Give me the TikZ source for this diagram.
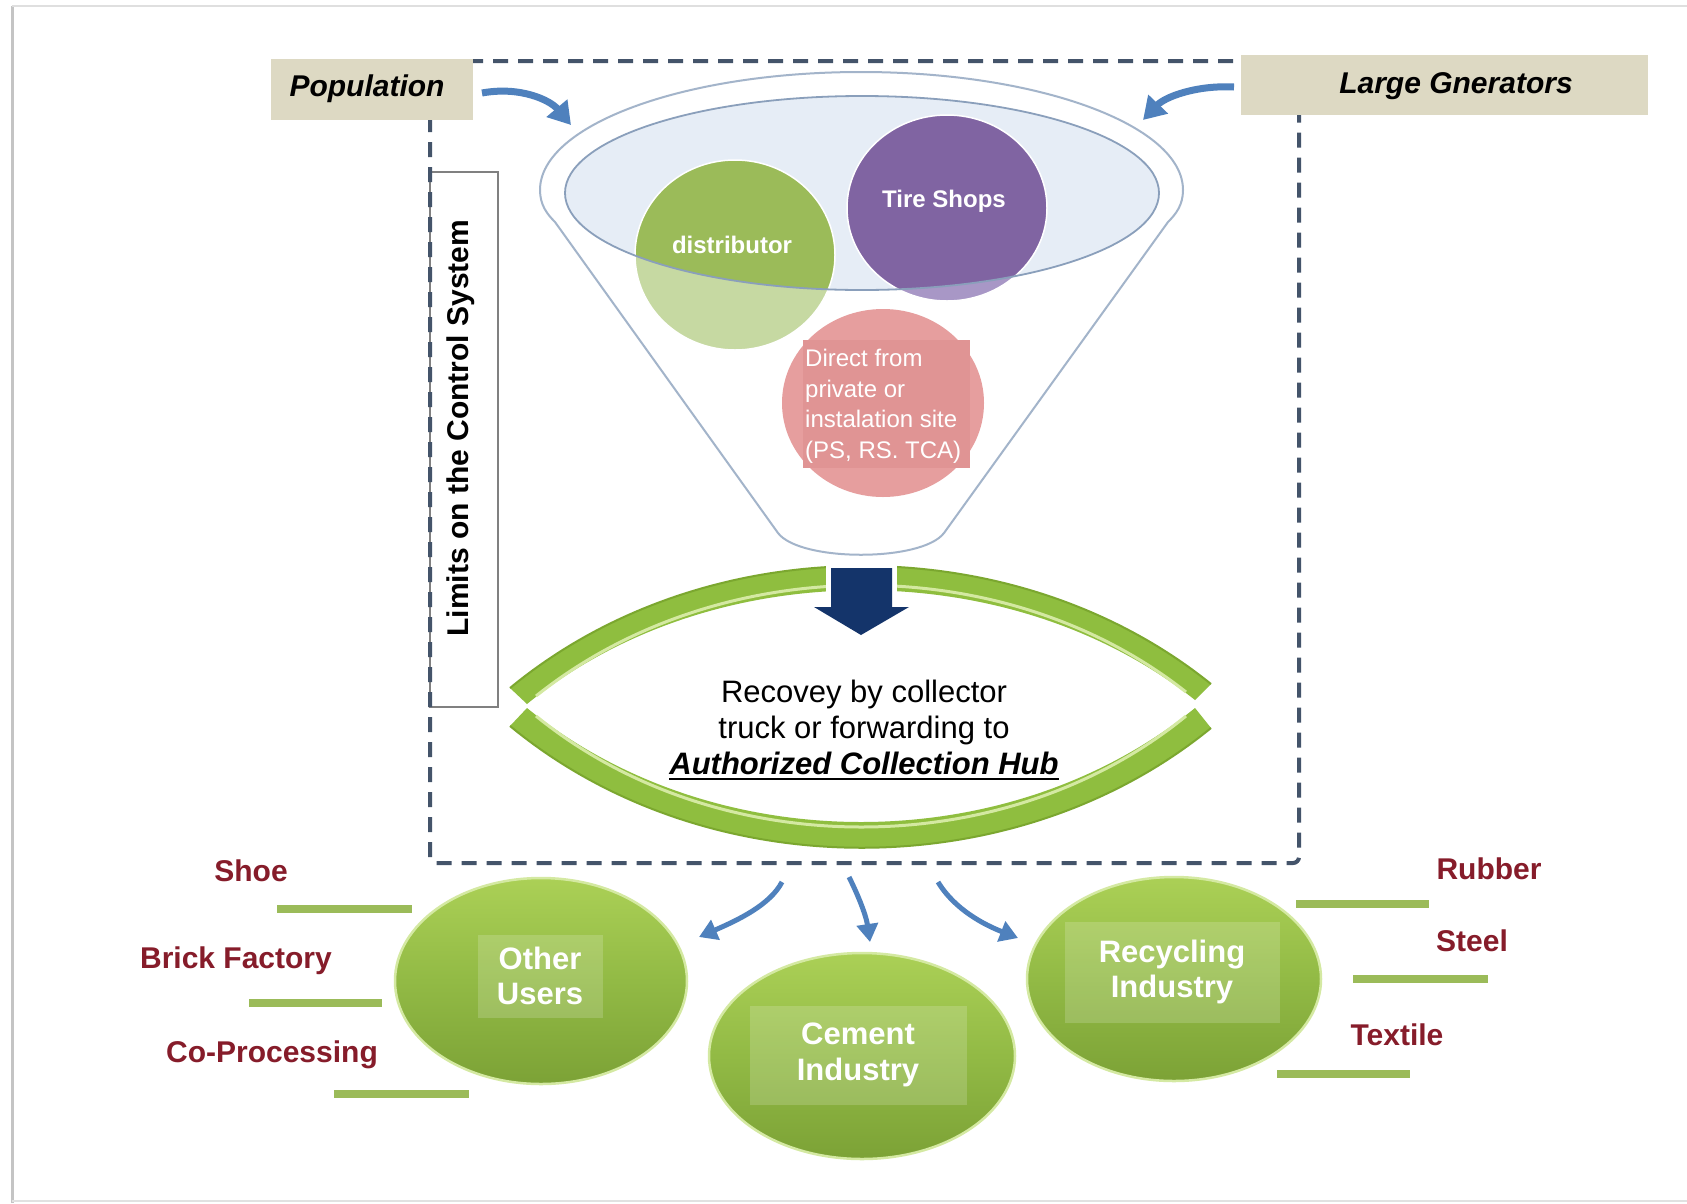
\documentclass[tikz,border=0pt]{standalone}
\usepackage{fontspec}
\setmainfont{Liberation Sans}
\usetikzlibrary{arrows.meta,shapes.geometric}

\definecolor{dashc}{HTML}{44546A}
\definecolor{beige}{HTML}{DDD9C3}
\definecolor{arrowblue}{HTML}{4F81BD}
\definecolor{navy}{HTML}{14346A}
\definecolor{fgreen}{HTML}{9BBB59}
\definecolor{flgreen}{HTML}{C6D9A2}
\definecolor{fpurple}{HTML}{8064A2}
\definecolor{flpurple}{HTML}{A897C6}
\definecolor{fpink}{HTML}{E69E9E}
\definecolor{fpinkbox}{HTML}{E09494}
\definecolor{iceblue}{HTML}{E6EDF6}
\definecolor{funnelline}{HTML}{A3B4CA}
\definecolor{ellline}{HTML}{8A9FBB}
\definecolor{bandgreen}{HTML}{8FBE3F}
\definecolor{banddark}{HTML}{7BA72F}
\definecolor{bandlight}{HTML}{D4E9A2}
\definecolor{sphere}{HTML}{92BA45}
\definecolor{spheretop}{HTML}{ABD056}
\definecolor{spherebot}{HTML}{7CA236}
\definecolor{darkred}{HTML}{861C2A}
\definecolor{framegray}{HTML}{C4C4C4}

\newcommand{\thickul}[1]{\setbox0\hbox{#1}\rlap{\rule[-6pt]{\wd0}{2.5pt}}\box0}

\begin{document}
\begin{tikzpicture}[x=1pt,y=-1pt,
  dashframe/.style={draw=dashc, line width=4pt, dash pattern=on 15pt off 10pt, rounded corners=6pt},
  tagbox/.style={fill=beige, inner sep=0pt},
  tagtext/.style={font=\fontsize{30}{34}\selectfont\bfseries\itshape, text=black},
  bluearrow/.style={draw=arrowblue, line width=7pt, -{Triangle[width=26pt,length=22pt]}},
  smallarrow/.style={draw=arrowblue, line width=5pt, -{Triangle[width=21pt,length=18pt]}},
  blobtext/.style={text=white, font=\fontsize{24}{28}\selectfont\bfseries},
  sphere/.style={ellipse, inner sep=0pt, top color=spheretop, bottom color=spherebot, middle color=sphere, draw=bandlight, line width=2.5pt},
  spheretext/.style={fill=white, fill opacity=0.17, text opacity=1, text=white, align=center, inner sep=0pt, font=\fontsize{31}{35.5}\selectfont\bfseries},
  sidelabel/.style={text=darkred, font=\fontsize{30}{34}\selectfont\bfseries},
  gbar/.style={draw=fgreen, line width=8pt},
]
\useasboundingbox (0,0) rectangle (1687,1203);
\fill[white] (0,0) rectangle (1687,1203);
% frame edges
\draw[framegray, line width=3pt] (12,1203) -- (12,6);
\draw[framegray!55, line width=2pt] (12,6) -- (1687,6);
\draw[framegray!50, line width=1.5pt] (12,1201) -- (1687,1201);

% limits box
\node[draw=gray, line width=1.5pt, fill=white, minimum width=68pt, minimum height=535pt, inner sep=0pt] (limbox) at (464,439.5) {};
\node[rotate=90, font=\fontsize{30}{34}\selectfont\bfseries] (limtext) at (461,428) {Limits on the Control System};

% dashed control frame
\draw[dashframe] (430,61) rectangle (1299,863);

% tag boxes
\node[tagbox, minimum width=202pt, minimum height=61pt] (pop) at (372,89.5) {};
\node[tagtext] (poptext) at (367,89) {Population};
\node[tagbox, minimum width=407pt, minimum height=60pt] (large) at (1444.5,85) {};
\node[tagtext] (largetext) at (1456,86) {Large Gnerators};

% funnel
\draw[funnelline, line width=2pt, fill=white]
  (540,190) .. controls (540,125) and (684,72) .. (861,72)
  .. controls (1038,72) and (1183,125) .. (1183,190)
  .. controls (1183,205) and (1176,214) .. (1168,222)
  -- (944,533) .. controls (922,562) and (800,562) .. (778,533)
  -- (555,222) .. controls (547,214) and (540,205) .. (540,190) -- cycle;
\fill[iceblue] (862,193) ellipse [x radius=297, y radius=97];

% circles in funnel
\fill[flgreen] (735,255) ellipse [x radius=100, y radius=95];
\fill[flpurple] (947,208) ellipse [x radius=100, y radius=93];
\begin{scope}
  \clip (862,193) ellipse [x radius=297, y radius=97];
  \fill[fgreen] (735,255) ellipse [x radius=100, y radius=95];
  \fill[fpurple] (947,208) ellipse [x radius=100, y radius=93];
\end{scope}
\draw[white, line width=1.5pt] (735,255) ellipse [x radius=100, y radius=95];
\draw[white, line width=1.5pt] (947,208) ellipse [x radius=100, y radius=93];
\draw[ellline, line width=1.8pt] (862,193) ellipse [x radius=297, y radius=97];
\fill[fpink] (883,403) ellipse [x radius=101, y radius=94];
\node[fill=fpinkbox, minimum width=167pt, minimum height=128pt, inner sep=0pt] (pinkbox) at (886.5,404) {};

\node[blobtext] (dist) at (732,245) {distributor};
\node[blobtext] (tire) at (944,201) {Tire Shops};
\node[text=white, font=\fontsize{24}{30.5}\selectfont, align=left, anchor=north west, inner sep=0pt] (direct) at (805,349)
  {Direct from\\private or\\instalation site\\(PS, RS. TCA)};

% hub bands
\fill[bandgreen] (510,688) .. controls (706,526) and (1015,526) .. (1211,684)
  -- (1195,700) .. controls (1010,553) and (712,553) .. (527,704) -- cycle;
\draw[banddark, line width=2pt] (510,688) .. controls (706,526) and (1015,526) .. (1211,684);
\draw[bandlight, line width=3pt] (536,696) .. controls (720,549) and (1005,549) .. (1186,692);
\fill[bandgreen] (527,708) .. controls (714,860) and (1008,860) .. (1195,708)
  -- (1211,728) .. controls (1015,888) and (706,888) .. (510,726) -- cycle;
\draw[banddark, line width=2pt] (1211,728) .. controls (1015,888) and (706,888) .. (510,726);
\draw[bandlight, line width=3pt] (536,716) .. controls (718,864) and (1005,864) .. (1186,716);

% navy arrow
\fill[white] (826,560) rectangle (897,607);
\fill[navy] (831,568) -- (892,568) -- (892,607) -- (909,607) -- (861,635) -- (814,607) -- (831,607) -- cycle;

\node[align=center, font=\fontsize{31}{36}\selectfont] (hub) at (864,730)
  {Recovey by collector\\truck or forwarding to\\\thickul{\bfseries\itshape Authorized Collection Hub}};

% top arrows
\coordinate (popA) at (482,93);
\coordinate (funL) at (571,125);
\coordinate (largeA) at (1234,87);
\coordinate (funR) at (1143,120);
\draw[bluearrow] (popA) .. controls (520,86) and (550,100) .. (funL);
\draw[bluearrow] (largeA) .. controls (1196,85) and (1165,97) .. (funR);

% spheres
\node[sphere, minimum width=292pt, minimum height=206pt] (other) at (541,981) {};
\node[sphere, minimum width=306pt, minimum height=206pt] (cement) at (862,1056) {};
\node[sphere, minimum width=294pt, minimum height=204pt] (recyc) at (1174,979) {};
\node[spheretext, minimum width=125pt, minimum height=83pt] (othertxt) at (540,976) {Other\\Users};
\node[spheretext, minimum width=217pt, minimum height=99pt] (cementtxt) at (858,1055) {Cement\\Industry};
\node[spheretext, minimum width=215pt, minimum height=101pt] (recyctxt) at (1172,972) {Recycling\\Industry};

% bottom arrows
\coordinate (b1s) at (782,882);
\coordinate (b2s) at (849,877);
\coordinate (b3s) at (938,882);
\coordinate (b1e) at (699,937);
\coordinate (b2e) at (870,942);
\coordinate (b3e) at (1018,938);
\draw[smallarrow] (b1s) .. controls (770,905) and (738,920) .. (b1e);
\draw[smallarrow] (b2s) .. controls (858,895) and (866,915) .. (b2e);
\draw[smallarrow] (b3s) .. controls (955,910) and (985,925) .. (b3e);

% side labels and bars
\node[sidelabel] (shoe) at (251,871) {Shoe};
\node[sidelabel] (brick) at (236,961) {Brick Factory};
\node[sidelabel] (copro) at (272,1055) {Co-Processing};
\node[sidelabel] (rubber) at (1489,869) {Rubber};
\node[sidelabel] (steel) at (1472,941) {Steel};
\node[sidelabel] (textile) at (1397,1035) {Textile};
\draw[gbar] (277,909) -- (412,909);
\draw[gbar] (249,1003) -- (382,1003);
\draw[gbar] (334,1094) -- (469,1094);
\draw[gbar] (1296,904) -- (1429,904);
\draw[gbar] (1353,979) -- (1488,979);
\draw[gbar] (1277,1074) -- (1410,1074);
\end{tikzpicture}
\end{document}
